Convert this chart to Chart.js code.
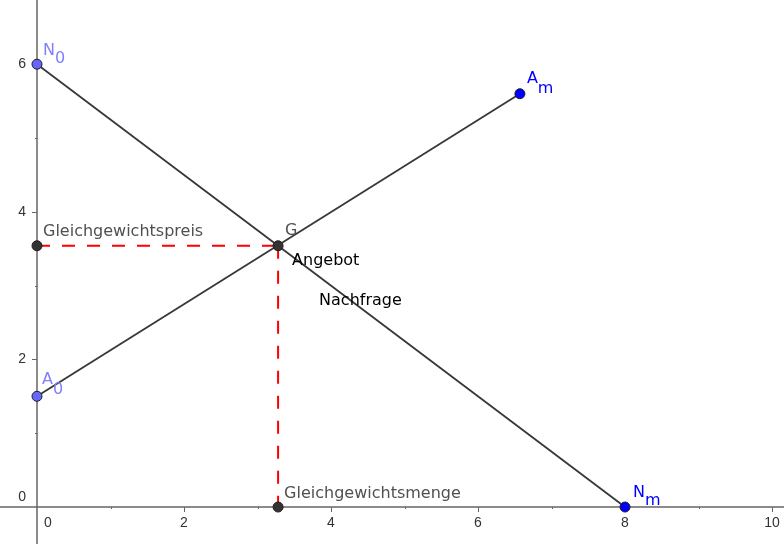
<!DOCTYPE html>
<html>
<head>
<meta charset="utf-8">
<script src="https://cdn.jsdelivr.net/npm/chart.js@4/dist/chart.umd.min.js"></script>
<style>
  html, body { margin: 0; padding: 0; background: #ffffff; }
  #wrap { width: 784px; height: 544px; }
</style>
</head>
<body>
<div id="wrap"><canvas id="c" width="784" height="544"></canvas></div>
<script>
// ---- data ----
const demandX = [0, 8];          // Nachfrage: N0 -> Nm
const demandY = [6, 0];
const supplyX = [0, 6.57];       // Angebot: A0 -> Am
const supplyY = [1.5, 5.6];
const equilibriumX = 3.28;       // G
const equilibriumY = 3.54;
const xTickLabels = [0, 2, 4, 6, 8, 10];
const yTickLabels = [0, 2, 4, 6];
const pointNames = ['N0', 'A0', 'Am', 'Nm', 'G', 'Gleichgewichtspreis', 'Gleichgewichtsmenge'];
const pointX = [demandX[0], supplyX[0], supplyX[1], demandX[1], equilibriumX, 0, equilibriumX];
const pointY = [demandY[0], supplyY[0], supplyY[1], demandY[1], equilibriumY, equilibriumY, 0];
const lineNames = ['Angebot', 'Nachfrage'];

// ---- styles ----
const LIGHT = 'rgb(102,102,255)';
const BLUE = 'rgb(0,0,255)';
const DARK = 'rgb(51,51,51)';
const pointFill = [LIGHT, LIGHT, BLUE, BLUE, DARK, DARK, DARK];
const labelFont = '16px "DejaVu Sans", sans-serif';
const tickFont = '14px "Liberation Sans", Arial, sans-serif';

const pts = (xs, ys) => xs.map((x, i) => ({ x: x, y: ys[i] }));

const lineBase = { showLine: true, pointRadius: 0, pointHoverRadius: 0, fill: false, tension: 0, order: 2 };

const datasets = [
  Object.assign({}, lineBase, { label: lineNames[1], data: pts(demandX, demandY), borderColor: 'rgb(55,55,55)', borderWidth: 1.8 }),
  Object.assign({}, lineBase, { label: lineNames[0], data: pts(supplyX, supplyY), borderColor: 'rgb(55,55,55)', borderWidth: 1.8 }),
  Object.assign({}, lineBase, { label: 'preis', data: [{ x: pointX[5], y: pointY[5] }, { x: pointX[4], y: pointY[4] }], borderColor: 'rgb(255,0,0)', borderWidth: 2, borderDash: [13, 12] }),
  Object.assign({}, lineBase, { label: 'menge', data: [{ x: pointX[4], y: pointY[4] }, { x: pointX[6], y: pointY[6] }], borderColor: 'rgb(255,0,0)', borderWidth: 2, borderDash: [13, 12] }),
  { label: 'Punkte', data: pts(pointX, pointY), showLine: false, pointRadius: 5, pointHoverRadius: 5,
    pointBackgroundColor: pointFill, pointBorderColor: 'rgb(30,30,30)', pointBorderWidth: 1, order: 1 }
];

// axes drawn on the chart's own scales
const axesPlugin = {
  id: 'geoAxes',
  beforeDatasetsDraw(chart) {
    const ctx = chart.ctx, xs = chart.scales.x, ys = chart.scales.y;
    const x0 = xs.getPixelForValue(0), y0 = ys.getPixelForValue(0);
    ctx.save();
    ctx.strokeStyle = 'rgb(102,102,102)';
    ctx.lineWidth = 1.5;
    ctx.beginPath();
    ctx.moveTo(0, y0); ctx.lineTo(chart.width, y0);
    ctx.moveTo(x0, 0); ctx.lineTo(x0, chart.height);
    ctx.stroke();
    ctx.lineWidth = 1;
    ctx.beginPath();
    for (let v = 1; v <= 10; v++) {
      const px = Math.round(xs.getPixelForValue(v)) + 0.5;
      const len = v % 2 === 0 ? 5 : 2;
      ctx.moveTo(px, y0); ctx.lineTo(px, y0 + len);
    }
    for (let v = 1; v <= 6; v++) {
      const py = Math.round(ys.getPixelForValue(v)) + 0.5;
      const len = v % 2 === 0 ? 5 : 2;
      ctx.moveTo(x0, py); ctx.lineTo(x0 - len, py);
    }
    ctx.stroke();
    ctx.fillStyle = 'rgb(51,51,51)';
    ctx.font = tickFont;
    ctx.textBaseline = 'middle';
    ctx.textAlign = 'center';
    xTickLabels.forEach(v => {
      const px = xs.getPixelForValue(v) + (v === 0 ? 11 : 0);
      ctx.fillText(String(v), px, y0 + 16);
    });
    ctx.textAlign = 'right';
    yTickLabels.forEach(v => {
      const py = ys.getPixelForValue(v) + (v === 0 ? -10 : 0);
      ctx.fillText(String(v), x0 - 11, py);
    });
    ctx.restore();
  },
  afterDatasetsDraw(chart) {
    const ctx = chart.ctx, xs = chart.scales.x, ys = chart.scales.y;
    const P = i => ({ x: xs.getPixelForValue(pointX[i]), y: ys.getPixelForValue(pointY[i]) });
    ctx.save();
    ctx.textBaseline = 'alphabetic';
    ctx.textAlign = 'left';
    ctx.font = labelFont;
    function sub(main, subs, x, y, dy, color) {
      ctx.fillStyle = color;
      ctx.fillText(main, x, y);
      const w = ctx.measureText(main).width;
      ctx.fillText(subs, x + w, y + dy);
    }
    let p;
    p = P(0); sub('N', '0', p.x + 6, p.y - 9, 8, 'rgb(128,128,255)');
    p = P(1); sub('A', '0', p.x + 5, p.y - 12, 10, 'rgb(128,128,255)');
    p = P(2); sub('A', 'm', p.x + 7, p.y - 11, 10, BLUE);
    p = P(3); sub('N', 'm', p.x + 8, p.y - 10, 8, BLUE);
    ctx.fillStyle = 'rgb(80,80,80)';
    p = P(4); ctx.fillText('G', p.x + 7, p.y - 11);
    p = P(5); ctx.fillText('Gleichgewichtspreis', p.x + 6, p.y - 10);
    p = P(6); ctx.fillText('Gleichgewichtsmenge', p.x + 6, p.y - 9);
    ctx.fillStyle = 'rgb(0,0,0)';
    p = P(4); ctx.fillText(lineNames[0], p.x + 14, p.y + 19);
    ctx.fillText(lineNames[1], p.x + 41, p.y + 59);
    ctx.restore();
  }
};

new Chart(document.getElementById('c'), {
  type: 'scatter',
  data: { datasets: datasets },
  options: {
    responsive: false,
    animation: false,
    devicePixelRatio: 1,
    layout: { padding: 0, autoPadding: false },
    plugins: { legend: { display: false }, tooltip: { enabled: false }, title: { display: false } },
    events: [],
    scales: {
      x: { type: 'linear', display: false, min: -0.5034, max: 10.163 },
      y: { type: 'linear', display: false, min: -0.501, max: 6.87 }
    }
  },
  plugins: [axesPlugin]
});
</script>
</body>
</html>
